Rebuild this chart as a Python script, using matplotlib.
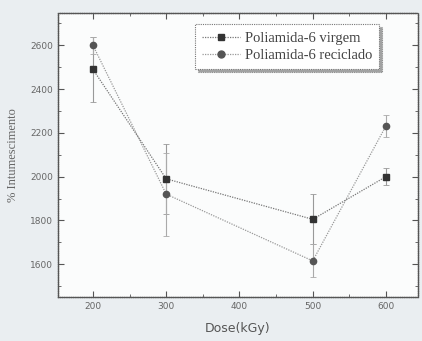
import matplotlib
matplotlib.use("Agg")
import matplotlib.pyplot as plt
from matplotlib.ticker import MultipleLocator
from matplotlib.lines import Line2D

dose = [200, 300, 500, 600]
virgem = [2490, 1990, 1805, 2000]
virgem_err = [150, 160, 115, 40]
reciclado = [2600, 1920, 1615, 2232]
reciclado_err = [40, 190, 75, 50]
labels = ["Poliamida-6 virgem", "Poliamida-6 reciclado"]

fig = plt.figure(figsize=(4.22, 3.41), dpi=100, facecolor="#eaeef1")
ax = fig.add_axes([0.137, 0.129, 0.854, 0.833])
ax.set_facecolor("#fbfcfc")

ax.errorbar(dose, virgem, yerr=virgem_err, color="#777777", ls=(0, (1, 1)), lw=0.9,
            marker="s", ms=4.5, mfc="#333333", mec="#333333", ecolor="#999999",
            elinewidth=0.8, capsize=2.5, capthick=0.6)
ax.errorbar(dose, reciclado, yerr=reciclado_err, color="#999999", ls=(0, (1, 1)), lw=0.9,
            marker="o", ms=4.5, mfc="#555555", mec="#555555", ecolor="#aaaaaa",
            elinewidth=0.8, capsize=2.5, capthick=0.6)

ax.set_xlim(152, 644)
ax.set_ylim(1450, 2748)
ax.xaxis.set_major_locator(MultipleLocator(100))
ax.xaxis.set_minor_locator(MultipleLocator(50))
ax.yaxis.set_major_locator(MultipleLocator(200))
ax.yaxis.set_minor_locator(MultipleLocator(100))
ax.tick_params(which="both", direction="in", top=True, right=True, colors="#555555",
               labelsize=6.5, labelcolor="#666666")
ax.tick_params(which="major", length=4, width=0.8)
ax.tick_params(which="minor", length=2, width=0.6)
for s in ax.spines.values():
    s.set_color("#555555")
    s.set_linestyle((0, (1, 0.6)))
    s.set_linewidth(1.0)

ax.set_xlabel("Dose(kGy)", fontsize=9, color="#555555", labelpad=8)
ax.set_ylabel("% Intumescimento", fontsize=9, color="#666666", family="Liberation Serif", labelpad=8)

handles = [
    Line2D([], [], color="#777777", ls=(0, (1, 1)), lw=0.9, marker="s", ms=5,
           mfc="#333333", mec="#333333"),
    Line2D([], [], color="#999999", ls=(0, (1, 1)), lw=0.9, marker="o", ms=5,
           mfc="#555555", mec="#555555"),
]
leg = ax.legend(handles, labels, loc="upper right", bbox_to_anchor=(0.892, 0.96),
                prop={"family": "Liberation Serif", "size": 10.5},
                frameon=True, fancybox=False, shadow=True, handlelength=2.6, borderpad=0.5,
                labelspacing=0.25, handletextpad=0.3, borderaxespad=0)
leg.get_frame().set_edgecolor("#777777")
leg.get_frame().set_linestyle((0, (1, 1)))
leg.get_frame().set_linewidth(0.8)
for t in leg.get_texts():
    t.set_color("#444444")

fig.savefig("out.png", dpi=100, facecolor=fig.get_facecolor())
